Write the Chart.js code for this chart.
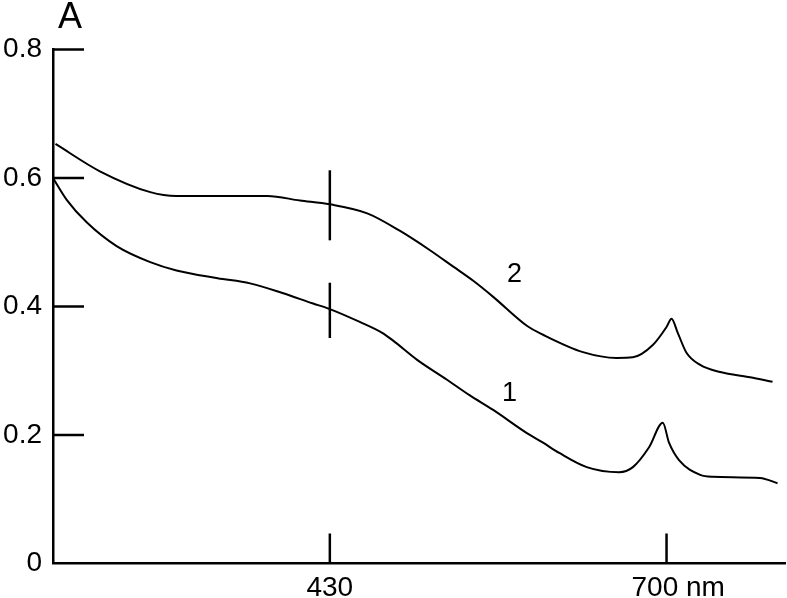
<!DOCTYPE html>
<html>
<head>
<meta charset="utf-8">
<script src="https://cdn.jsdelivr.net/npm/chart.js@4/dist/chart.umd.min.js"></script>
<style>
  html, body { margin: 0; padding: 0; background: #fff; }
  #wrap { width: 787px; height: 598px; }
</style>
</head>
<body>
<div id="wrap"><canvas id="spectrum" width="787" height="598"></canvas></div>
<script>
// spectra (nm, absorbance)
const wavelength1 = [208, 219, 235, 259, 286, 307, 340, 366, 392, 416, 430, 454, 472, 480, 500, 524, 542, 561, 588, 601, 614, 636, 662, 673, 686, 697, 702, 710, 727, 737, 775, 789];
const absorbance1 = [0.600, 0.566, 0.531, 0.494, 0.469, 0.456, 0.444, 0.436, 0.421, 0.405, 0.396, 0.376, 0.359, 0.348, 0.317, 0.286, 0.262, 0.239, 0.203, 0.188, 0.172, 0.150, 0.142, 0.150, 0.181, 0.219, 0.188, 0.161, 0.138, 0.135, 0.133, 0.125];
const wavelength2 = [210, 246, 286, 307, 352, 380, 406, 430, 460, 486, 510, 529, 545, 561, 588, 601, 633, 660, 673, 689, 700, 704, 709, 716, 727, 743, 767, 785];
const absorbance2 = [0.653, 0.610, 0.578, 0.572, 0.572, 0.572, 0.565, 0.559, 0.545, 0.518, 0.488, 0.462, 0.440, 0.415, 0.370, 0.356, 0.329, 0.320, 0.321, 0.340, 0.368, 0.381, 0.359, 0.328, 0.309, 0.298, 0.290, 0.283];
const xTicks = [430, 700];
const xTickLabels = ['430', '   700 nm'];
const yTicks = [0, 0.2, 0.4, 0.6, 0.8];
// short vertical marks at 430 nm and curve numbers
const markNm = 430;
const markRanges = [[0.351, 0.437], [0.503, 0.612]];
const curveLabels = ['1', '2'];
const curveLabelPos = [[574, 0.265], [578, 0.449]];

const FONT = '"Liberation Sans", Arial, sans-serif';

const toPts = (xs, ys) => xs.map((x, i) => ({ x: x, y: ys[i] }));

const decorations = {
  id: 'decorations',
  afterDatasetsDraw(chart) {
    const ctx = chart.ctx;
    const xs = chart.scales.x, ys = chart.scales.y;
    const area = chart.chartArea;
    ctx.save();
    ctx.strokeStyle = '#000';
    ctx.lineWidth = 2.5;
    // inward tick marks
    yTicks.forEach(v => {
      if (v === 0) return;
      const py = ys.getPixelForValue(v);
      ctx.beginPath();
      ctx.moveTo(area.left, py);
      ctx.lineTo(area.left + 31, py);
      ctx.stroke();
    });
    xTicks.forEach(v => {
      const px = xs.getPixelForValue(v);
      ctx.beginPath();
      ctx.moveTo(px, area.bottom);
      ctx.lineTo(px, area.bottom - 30);
      ctx.stroke();
    });
    // marks at 430 nm
    const mx = xs.getPixelForValue(markNm);
    markRanges.forEach(r => {
      ctx.beginPath();
      ctx.moveTo(mx, ys.getPixelForValue(r[0]));
      ctx.lineTo(mx, ys.getPixelForValue(r[1]));
      ctx.stroke();
    });
    // curve numbers
    ctx.fillStyle = '#000';
    ctx.font = '27px ' + FONT;
    ctx.textAlign = 'center';
    ctx.textBaseline = 'middle';
    curveLabels.forEach((t, i) => {
      ctx.fillText(t, xs.getPixelForValue(curveLabelPos[i][0]), ys.getPixelForValue(curveLabelPos[i][1]));
    });
    // axis title
    ctx.font = '36px ' + FONT;
    ctx.textBaseline = 'alphabetic';
    ctx.fillText('A', 70, 28);
    ctx.restore();
  }
};

new Chart(document.getElementById('spectrum'), {
  type: 'line',
  data: {
    datasets: [
      { label: '1', data: toPts(wavelength1, absorbance1) },
      { label: '2', data: toPts(wavelength2, absorbance2) }
    ]
  },
  options: {
    responsive: false,
    animation: false,
    devicePixelRatio: 1,
    layout: { padding: { top: 49.5, right: 2, left: 0, bottom: 0 } },
    elements: {
      line: { borderColor: '#000', borderWidth: 2, cubicInterpolationMode: 'monotone', fill: false },
      point: { radius: 0 }
    },
    plugins: {
      legend: { display: false },
      tooltip: { enabled: false }
    },
    scales: {
      x: {
        type: 'linear',
        min: 208,
        max: 795,
        afterBuildTicks: s => { s.ticks = xTicks.map(v => ({ value: v })); },
        afterFit: s => { s.height = 34.5; },
        grid: { display: false, drawTicks: false, tickLength: 0 },
        border: { display: true, color: '#000', width: 2.5 },
        ticks: {
          color: '#000',
          font: { family: FONT, size: 28 },
          padding: 8,
          maxRotation: 0,
          autoSkip: false,
          callback: v => xTickLabels[xTicks.indexOf(v)]
        }
      },
      y: {
        min: 0,
        max: 0.8,
        afterBuildTicks: s => { s.ticks = yTicks.map(v => ({ value: v })); },
        afterFit: s => { s.width = 53; },
        grid: { display: false, drawTicks: false, tickLength: 0 },
        border: { display: true, color: '#000', width: 2.5 },
        ticks: {
          color: '#000',
          font: { family: FONT, size: 28 },
          padding: 11,
          callback: v => v === 0 ? '0' : v.toFixed(1)
        }
      }
    }
  },
  plugins: [decorations]
});
</script>
</body>
</html>
